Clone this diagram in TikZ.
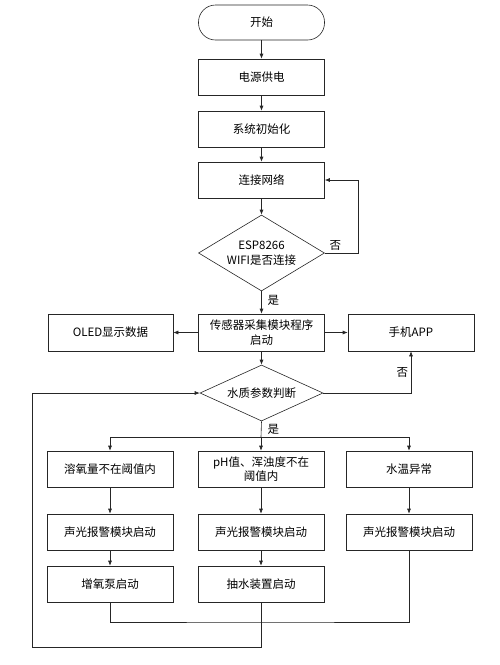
\documentclass[tikz,border=0pt]{standalone}
\usepackage{fontspec}
\newfontfamily\cjk{Noto Sans CJK SC}
\usetikzlibrary{arrows.meta,shapes.geometric,positioning}
\tikzset{
  box/.style={draw=black!85,line width=0.6pt,rectangle,minimum width=126pt,minimum height=36pt,inner sep=0pt,align=center},
  startbox/.style={box,rounded corners=17pt,minimum height=35pt},
  decision/.style={draw=black!85,line width=0.6pt,diamond,inner sep=0pt,align=center},
  arr/.style={draw=black!85,line width=0.6pt,-{Latex[length=5pt,width=4pt]}},
  line/.style={draw=black!85,line width=0.6pt},
  every node/.append style={font=\cjk\fontsize{11.5}{15}\selectfont}
}
\begin{document}
\begin{tikzpicture}[x=1pt,y=-1pt]
\useasboundingbox (0,0) rectangle (500,665);
\node [startbox] (start)  at (261.5,22.5) {开始};
\node [box] (power)  at (261.5,77)  {电源供电};
\node [box] (init)   at (261.5,129) {系统初始化};
\node [box] (net)    at (261.5,180) {连接网络};
\node [decision,aspect=1.66,minimum width=126pt,minimum height=76pt] (wifi) at (261.5,253) {ESP8266\\WIFI是否连接};
\node [box,minimum height=37pt] (sensor) at (261.5,332.5) {传感器采集模块程序\\启动};
\node [box,minimum width=125pt,minimum height=37pt] (oled) at (110.5,332.5) {OLED显示数据};
\node [box,minimum height=37pt] (app)    at (411,332.5) {手机APP};
\node [decision,aspect=2.2,minimum width=123pt,minimum height=56pt] (judge) at (261.5,393) {水质参数判断};
\node [box] (oxygen) at (110,469) {溶氧量不在阈值内};
\node [box,font=\cjk\fontsize{11.5}{14}\selectfont] (ph) at (261,469) {pH值、浑浊度不在\\阈值内};
\node [box] (temp)   at (409,469) {水温异常};
\node [box] (alarma) at (110,532) {声光报警模块启动};
\node [box] (alarmb) at (261,532) {声光报警模块启动};
\node [box] (alarmc) at (409,532) {声光报警模块启动};
\node [box] (pump)   at (110,584) {增氧泵启动};
\node [box] (drain)  at (261,584) {抽水装置启动};
\coordinate (split) at (261,437);
\coordinate (merge) at (261,622);
\coordinate (loop)  at (32,647);
\draw[arr] (start) -- (power);
\draw[arr] (power) -- (init);
\draw[arr] (init) -- (net);
\draw[arr] (net) -- (wifi);
\draw[arr] (wifi.east) -- ++(33,0) |- (net.east);
\draw[arr] (wifi) -- (sensor);
\draw[arr] (sensor) -- (oled);
\draw[arr] (sensor) -- (app);
\draw[arr] (sensor) -- (judge);
\draw[arr] (judge.east) -| (app.south);
\draw[line] (judge.south) -- (split);
\draw[arr] (split) -- (ph.north);
\draw[arr] (split) -| (oxygen.north);
\draw[arr] (split) -| (temp.north);
\draw[arr] (oxygen) -- (alarma);
\draw[arr] (ph) -- (alarmb);
\draw[arr] (temp) -- (alarmc);
\draw[arr] (alarma) -- (pump);
\draw[arr] (alarmb) -- (drain);
\draw[line] (pump.south) |- (merge) -| (alarmc.south);
\draw[arr] (drain.south) |- (loop) |- (judge.west);
\node [anchor=west] at (326,245) {否};
\node [anchor=west] at (264,300) {是};
\node [anchor=west] at (393,372) {否};
\node [anchor=west] at (264,429) {是};
%\node at (261,660) {};
\end{tikzpicture}
\end{document}
